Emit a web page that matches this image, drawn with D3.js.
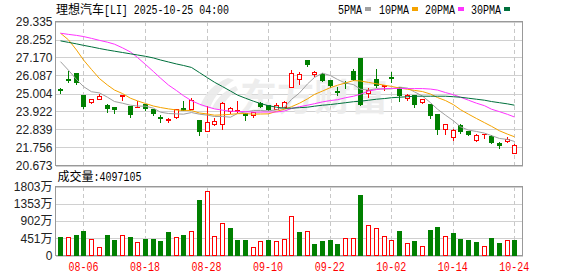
<!DOCTYPE html>
<html><head><meta charset="utf-8">
<script src="https://cdn.jsdelivr.net/npm/d3@7"></script>
<style>html,body{margin:0;padding:0;background:#fff;overflow:hidden}svg{display:block}</style>
</head><body>
<svg id="c" width="578" height="276"></svg>
<script>
const dates = ["08-01","08-04","08-05","08-06","08-07","08-08","08-11","08-12","08-13","08-14","08-15","08-18","08-19","08-20","08-21","08-22","08-25","08-26","08-27","08-28","08-29","09-02","09-03","09-04","09-05","09-08","09-09","09-10","09-11","09-12","09-15","09-16","09-17","09-18","09-19","09-22","09-23","09-24","09-25","09-26","09-29","09-30","10-01","10-02","10-03","10-06","10-07","10-08","10-09","10-10","10-13","10-14","10-15","10-16","10-17","10-20","10-21","10-22","10-23","10-24"];
const open  = [25.22,25.83,26.23,24.86,24.44,24.64,24.27,24.18,24.80,24.24,24.15,24.34,24.04,23.57,23.36,23.57,24.12,24.06,23.39,22.69,23.13,23.14,23.91,23.94,23.83,23.70,24.40,24.30,24.04,24.18,25.37,25.85,26.96,26.17,26.14,25.79,25.10,25.63,26.32,27.12,24.98,25.85,25.42,25.95,25.37,24.71,24.89,24.48,24.34,23.74,22.85,22.34,23.09,22.73,22.19,22.52,22.40,21.97,22.14,21.42];
const high  = [25.37,26.36,26.28,24.88,24.70,25.00,24.40,24.21,24.96,24.30,24.57,24.40,24.09,23.75,23.59,24.10,24.56,24.75,23.43,24.27,23.54,24.52,24.23,24.57,23.86,23.93,24.50,24.36,24.45,24.60,26.46,26.32,26.99,26.36,26.28,25.86,25.40,25.81,26.52,27.17,25.37,26.52,25.54,26.33,25.38,24.98,24.92,24.67,24.43,23.79,23.17,22.88,23.19,22.76,22.59,22.56,22.52,22.12,22.42,21.98];
const low   = [25.02,25.67,25.57,24.12,24.38,24.63,23.88,23.79,24.56,23.59,24.15,23.99,23.69,23.27,23.24,23.53,23.97,24.04,22.49,22.69,23.08,22.84,23.80,23.88,23.36,23.55,24.18,24.00,24.03,24.15,25.36,25.57,26.63,26.05,25.75,25.38,24.86,25.30,25.81,24.30,24.76,25.38,25.21,25.69,24.50,24.60,24.14,24.38,23.49,22.53,22.53,22.15,22.62,22.49,22.09,22.28,21.98,21.72,22.04,21.42];
const close = [25.19,25.80,25.69,24.24,24.64,24.84,24.09,24.03,24.90,23.77,24.18,24.09,23.80,23.48,23.45,24.04,24.00,24.60,22.70,23.23,23.33,24.42,24.11,24.00,23.69,23.89,24.20,24.04,24.30,24.48,26.22,26.17,26.72,26.26,25.77,25.46,25.05,25.59,25.85,24.34,25.21,25.46,25.48,25.91,24.88,24.90,24.34,24.64,23.69,22.83,23.13,22.78,22.74,22.54,22.49,22.56,22.04,21.88,22.24,21.88];
// volume in 万 shares
const volume = [475,475,528,634,440,229,528,396,546,475,361,422,422,370,607,493,528,634,1452,1681,519,845,713,396,396,229,388,396,388,440,1030,607,651,290,370,396,290,467,467,1584,810,731,519,414,634,335,370,256,660,739,519,581,422,396,343,256,449,317,414,409.7105];
const ma5  = [26.92,26.40,25.85,25.42,25.11,25.04,24.78,24.52,24.42,24.30,24.25,24.24,24.12,23.88,23.80,23.78,23.76,23.86,23.76,23.70,23.62,23.62,23.58,23.80,23.90,23.98,23.98,23.96,24.02,24.18,24.65,25.04,25.58,25.97,26.23,26.08,25.85,25.63,25.54,25.26,25.21,25.29,25.27,25.28,25.39,25.33,25.10,24.85,24.45,24.06,23.70,23.36,23.00,22.80,22.72,22.62,22.47,22.30,22.24,22.12];
const ma10 = [28.63,28.23,27.62,27.02,26.45,25.90,25.51,25.21,25.00,24.72,24.56,24.40,24.25,24.16,24.08,24.01,23.99,23.98,23.83,23.77,23.70,23.72,23.75,23.79,23.80,23.76,23.77,23.78,23.93,24.06,24.21,24.42,24.68,24.95,25.15,25.36,25.50,25.64,25.78,25.76,25.67,25.59,25.50,25.43,25.33,25.26,25.19,25.12,24.97,24.76,24.58,24.33,24.03,23.76,23.50,23.25,23.03,22.76,22.56,22.40];
const ma20 = [28.63,28.56,28.50,28.43,28.32,28.20,28.09,27.97,27.75,27.50,27.17,26.75,26.32,25.93,25.51,25.18,24.87,24.57,24.36,24.20,24.08,24.00,23.94,23.93,23.91,23.88,23.89,23.89,23.89,23.95,24.10,24.21,24.30,24.39,24.50,24.58,24.63,24.75,24.84,24.96,25.15,25.24,25.30,25.31,25.31,25.30,25.30,25.30,25.27,25.21,25.06,24.93,24.78,24.60,24.42,24.27,24.06,23.91,23.75,23.59];
const ma30 = [28.17,28.08,27.99,27.90,27.81,27.71,27.62,27.55,27.47,27.39,27.32,27.24,27.14,27.02,26.90,26.78,26.69,26.57,26.26,25.95,25.68,25.42,25.15,24.91,24.72,24.54,24.40,24.27,24.18,24.12,24.12,24.15,24.18,24.24,24.30,24.34,24.39,24.45,24.51,24.54,24.60,24.66,24.70,24.75,24.78,24.81,24.84,24.84,24.84,24.84,24.84,24.81,24.78,24.72,24.66,24.60,24.52,24.45,24.38,24.30];
const priceTicks = ["29.335","28.252","27.170","26.087","25.004","23.922","22.839","21.756","20.673"];
const volTicks = [1803,1353,902,451,0];
const volTickLabels = ["1803万","1353万","902万","451万","0"];
const xTickDates = ["08-06","08-18","08-28","09-10","09-22","10-02","10-14","10-24"];
const maNames = ["5PMA","10PMA","20PMA","30PMA"];
const maColors = ["#a0a0a0","#f5a300","#ff33ff","#00703c"];
const titleCN = "理想汽车", titleRest = "[LI] 2025-10-25 04:00";
const volTitleCN = "成交量", volTitleRest = ":4097105";

const UP = "#ff0000", DOWN = "#008000";
const svg = d3.select("#c");
const L = 55.5, R = 522.5, PT = 21.5, PB = 165.5, VT = 186.5, VB = 255.5;
const MONO = "'Liberation Mono','DejaVu Sans Mono',monospace";
const CJK = "'Noto Sans CJK SC',sans-serif";
const SANS = "'Liberation Sans',Arial,'Noto Sans CJK SC',sans-serif";

const x = d3.scaleBand().domain(dates).range([56.5, 518.2]);
const cx = d => Math.round(x(d) + x.bandwidth() / 2) + 0.5;
const pv = priceTicks.map(Number);
const y = d3.scaleLinear().domain([d3.min(pv), d3.max(pv)]).range([PB, PT]);
const yv = d3.scaleLinear().domain([0, d3.max(volTicks)]).range([VB, VT]);
const ry = v => Math.round(y(v) - 0.5) + 0.5;

// ---------- grids ----------
function hgrid(scale, vals, top, bot) {
  const g = svg.append("g").attr("transform", `translate(${L},0)`)
    .call(d3.axisLeft(scale).tickValues(vals).tickSize(-(R - L)).tickFormat(""));
  g.select(".domain").remove();
  g.selectAll("line").attr("stroke", "#d0d0d0").attr("shape-rendering", "crispEdges");
}
hgrid(y, pv, PT, PB);
hgrid(yv, volTicks, VT, VB);
function vgrid(top, bot) {
  svg.append("g").selectAll("line").data(xTickDates).join("line")
    .attr("x1", d => cx(d)).attr("x2", d => cx(d)).attr("y1", top).attr("y2", bot)
    .attr("stroke", "#c8c8c8").attr("stroke-dasharray", "4,3").attr("shape-rendering", "crispEdges");
}
vgrid(PT, PB); vgrid(VT, VB);

// watermark
const wm = svg.append("g").attr("opacity", 0.9);
wm.append("path").attr("d", "M200,106 C206,92 214,84 228,78 L234,80 C222,88 214,96 210,108 Z M212,108 C218,96 226,90 236,86 L238,90 C230,95 224,101 222,110 Z")
  .attr("fill", "#ebebeb");
wm.append("text").attr("x", 240).attr("y", 111).attr("font-family", CJK).attr("font-weight", "bold")
  .attr("font-size", 37).attr("fill", "#ececec").text("东方财富");

// frames
[[PT, PB], [VT, VB]].forEach(([t, b]) => {
  svg.append("rect").attr("x", L).attr("y", t).attr("width", R - L).attr("height", b - t)
    .attr("fill", "none").attr("stroke", "#999").attr("shape-rendering", "crispEdges");
});

// ---------- candles ----------
const idx = d3.range(dates.length);
const cg = svg.append("g").attr("shape-rendering", "crispEdges");
idx.forEach(i => {
  const d = dates[i], xc = cx(d);
  const up = close[i] >= open[i];
  const top = ry(Math.max(open[i], close[i])), bot = ry(Math.min(open[i], close[i]));
  const hi = ry(high[i]), lo = ry(low[i]);
  if (up) {
    cg.append("line").attr("x1", xc).attr("x2", xc).attr("y1", hi).attr("y2", top).attr("stroke", UP);
    cg.append("line").attr("x1", xc).attr("x2", xc).attr("y1", bot).attr("y2", lo).attr("stroke", UP);
    cg.append("rect").attr("x", xc - 2).attr("y", top).attr("width", 4).attr("height", Math.max(bot - top, 0.01))
      .attr("fill", "#fff").attr("stroke", UP);
  } else {
    cg.append("line").attr("x1", xc).attr("x2", xc).attr("y1", hi).attr("y2", lo).attr("stroke", DOWN);
    cg.append("rect").attr("x", xc - 2.5).attr("y", top - 0.5).attr("width", 5).attr("height", Math.max(bot - top, 0) + 1)
      .attr("fill", DOWN);
  }
});

// ---------- moving averages ----------
[ma5, ma10, ma20, ma30].forEach((arr, k) => {
  svg.append("path").datum(arr)
    .attr("d", d3.line().x((v, i) => cx(dates[i])).y(v => y(v)))
    .attr("fill", "none").attr("stroke", maColors[k]).attr("stroke-width", 1);
});

// ---------- volume ----------
const vg = svg.append("g").attr("shape-rendering", "crispEdges");
idx.forEach(i => {
  const xc = cx(dates[i]);
  const up = i === 0 ? close[i] >= open[i] : close[i] >= close[i - 1];
  const t = Math.round(yv(volume[i]));
  if (up) {
    vg.append("rect").attr("x", xc - 2).attr("y", t + 0.5).attr("width", 4).attr("height", VB - t - 1)
      .attr("fill", "#fff").attr("stroke", UP);
  } else {
    vg.append("rect").attr("x", xc - 2.5).attr("y", t).attr("width", 5).attr("height", VB - t).attr("fill", DOWN);
  }
});

// ---------- axes labels ----------
const ya = svg.append("g").attr("transform", `translate(${L},0)`)
  .call(d3.axisLeft(y).tickValues(pv).tickSize(0).tickPadding(3).tickFormat((d, i) => priceTicks[i]));
ya.select(".domain").remove();
ya.selectAll("text").attr("font-family", SANS).attr("font-size", 12).attr("fill", "#222");
const yva = svg.append("g").attr("transform", `translate(${L},0)`)
  .call(d3.axisLeft(yv).tickValues(volTicks).tickSize(0).tickPadding(3).tickFormat((d, i) => volTickLabels[i]));
yva.select(".domain").remove();
yva.selectAll("text").attr("font-family", SANS).attr("font-size", 12).attr("fill", "#222");
const xa = svg.append("g").attr("transform", `translate(0,${VB})`)
  .call(d3.axisBottom(x).tickValues(xTickDates).tickSize(0).tickPadding(7));
xa.select(".domain").remove();
xa.selectAll("text").attr("font-family", MONO).attr("font-size", 12).attr("fill", UP)
  .attr("textLength", 30).attr("lengthAdjust", "spacingAndGlyphs");

// ---------- titles & legend ----------
function mixed(xp, yp, cn, rest, restLen) {
  svg.append("text").attr("x", xp).attr("y", yp).attr("font-family", CJK).attr("font-size", 12).attr("fill", "#000").text(cn);
  svg.append("text").attr("x", xp + cn.length * 12).attr("y", yp).attr("font-family", MONO).attr("font-size", 12)
    .attr("fill", "#000").attr("textLength", restLen).attr("lengthAdjust", "spacingAndGlyphs").text(rest);
}
mixed(56, 13.5, titleCN, titleRest, 125);
mixed(57.5, 181, volTitleCN, volTitleRest, 48);

const legX = [338, 379, 425, 471];
maNames.forEach((n, k) => {
  svg.append("text").attr("x", legX[k]).attr("y", 13.5).attr("font-family", MONO).attr("font-size", 12)
    .attr("fill", "#000").attr("textLength", n.length * 6).attr("lengthAdjust", "spacingAndGlyphs").text(n);
  svg.append("rect").attr("x", legX[k] + n.length * 6 + 3).attr("y", 7).attr("width", 6).attr("height", 4)
    .attr("fill", maColors[k]);
});
</script>
</body></html>
